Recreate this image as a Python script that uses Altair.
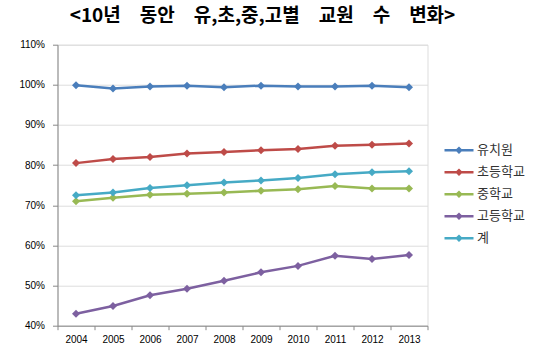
import altair as alt
import pandas as pd

years = ["2004", "2005", "2006", "2007", "2008", "2009", "2010", "2011", "2012", "2013"]
series_names = ["유치원", "초등학교", "중학교", "고등학교", "계"]
kinder = [99.9, 99.1, 99.6, 99.8, 99.4, 99.8, 99.6, 99.6, 99.8, 99.4]
elem = [80.5, 81.5, 82.0, 82.9, 83.3, 83.7, 84.0, 84.8, 85.1, 85.4]
middle = [71.0, 71.9, 72.6, 72.9, 73.2, 73.6, 74.0, 74.8, 74.2, 74.2]
high = [43.0, 44.9, 47.6, 49.2, 51.2, 53.3, 54.9, 57.4, 56.6, 57.6]
total = [72.5, 73.2, 74.3, 75.0, 75.7, 76.2, 76.8, 77.7, 78.2, 78.5]
colors = ["#4A7EBB", "#BE4B48", "#98B954", "#7D60A0", "#46AAC5"]

rows = []
for name, vals in zip(series_names, [kinder, elem, middle, high, total]):
    for y, v in zip(years, vals):
        rows.append({"연도": y, "구분": name, "비율": v / 100})
df = pd.DataFrame(rows)

legend_path = "M-1.45,0H1.45M-0.2,0L0,-0.2L0.2,0L0,0.2Z"
sp = "\u2002\u2002"
title_text = f"<10년{sp}동안{sp}유,초,중,고별{sp}교원{sp}수{sp}변화>"

chart = alt.Chart(df).mark_line(
    strokeWidth=2.5,
    point=alt.OverlayMarkDef(shape="diamond", size=64, filled=True),
).encode(
    x=alt.X("연도:O", sort=years, title=None,
            scale=alt.Scale(paddingInner=0, paddingOuter=0),
            axis=alt.Axis(labelAngle=0, tickBand="extent", tickSize=4,
                          labelPadding=5, grid=False)),
    y=alt.Y("비율:Q", title=None,
            scale=alt.Scale(domain=[0.4, 1.1], nice=False, zero=False),
            axis=alt.Axis(format=".0%", values=[0.4, 0.5, 0.6, 0.7, 0.8, 0.9, 1.0, 1.1],
                          tickSize=5, labelPadding=8, grid=True)),
    color=alt.Color("구분:N", sort=series_names,
                    scale=alt.Scale(domain=series_names, range=colors),
                    legend=alt.Legend(
                        title=None, orient="none", legendX=390, legendY=94,
                        symbolType=legend_path, symbolSize=400, symbolStrokeWidth=2.5,
                        labelFont="Noto Sans CJK KR", labelFontSize=13, labelColor="#333333",
                        labelOffset=6.5, rowPadding=3, padding=0,
                    )),
    order=alt.Order("연도:O"),
).properties(
    width=370,
    height=281,
    title=alt.TitleParams(
        title_text,
        font="Noto Sans CJK KR", fontSize=19, fontWeight="bold", color="#000000",
        anchor="middle", dx=20, offset=14,
    ),
    autosize=alt.AutoSizeParams(type="none"),
    padding={"left": 57.5, "top": 44.7, "right": 122.5, "bottom": 29.3},
).configure_view(stroke=None).configure_axis(
    labelFont="Liberation Sans", labelFontSize=11, labelColor="#222222",
    domainColor="#888888", tickColor="#888888", gridColor="#888888",
    gridWidth=1, domainWidth=1, tickWidth=1,
).configure(background="white")

chart.save("out.html", embed_options={"renderer": "svg", "actions": False})
